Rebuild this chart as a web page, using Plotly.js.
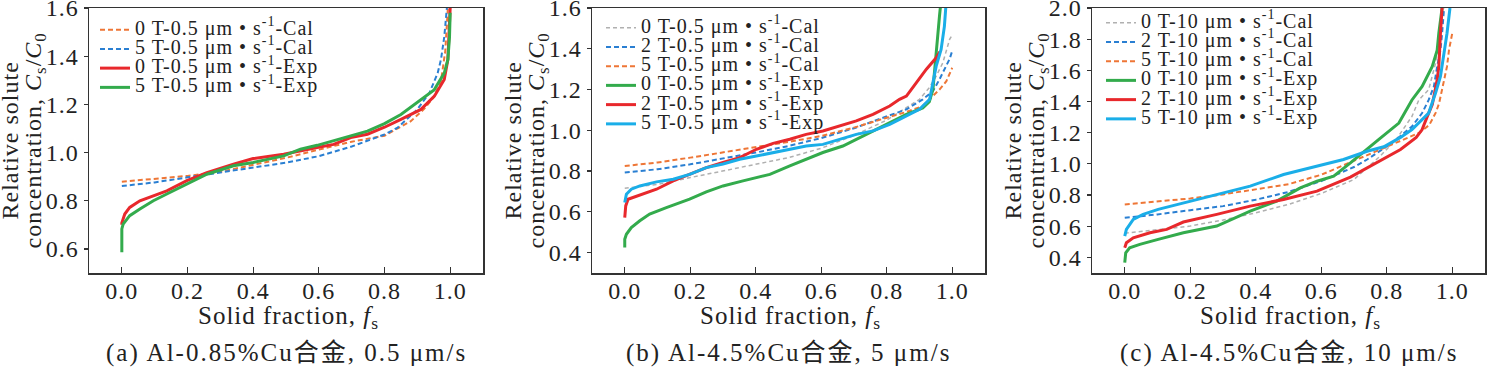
<!DOCTYPE html>
<html>
<head>
<meta charset="utf-8">
<script src="https://cdn.plot.ly/plotly-3.0.1.min.js"></script>
<style>
html,body{margin:0;padding:0;background:#fff}
#chart{width:1487px;height:368px}
svg text{letter-spacing:1px}
</style>
</head>
<body>
<div id="chart"></div>
<script>
// ---------------- DATA ----------------
// Panel (a) Al-0.85%Cu, 0.5 um/s
const a_cal0_f = [0, 0.1, 0.2, 0.3, 0.4, 0.5, 0.6, 0.7, 0.8, 0.84, 0.88, 0.92, 0.95, 0.972, 0.985, 0.993];
const a_cal0_v = [0.879, 0.89, 0.903, 0.92, 0.948, 0.978, 1.012, 1.045, 1.07, 1.1, 1.13, 1.18, 1.23, 1.296, 1.42, 1.6];
const a_cal5_f = [0, 0.1, 0.2, 0.3, 0.4, 0.5, 0.6, 0.7, 0.8, 0.84, 0.9, 0.937, 0.962, 0.972, 0.982, 0.99];
const a_cal5_v = [0.861, 0.876, 0.897, 0.917, 0.935, 0.958, 0.985, 1.025, 1.075, 1.103, 1.179, 1.248, 1.33, 1.386, 1.48, 1.6];
const a_exp0_f = [0, 0, 0.009, 0.024, 0.055, 0.096, 0.137, 0.198, 0.259, 0.34, 0.4, 0.493, 0.544, 0.595, 0.645, 0.697, 0.748, 0.8, 0.85, 0.911, 0.952, 0.982, 0.993, 0.997, 1.0];
const a_exp0_v = [0.70, 0.708, 0.745, 0.772, 0.80, 0.821, 0.841, 0.883, 0.917, 0.952, 0.975, 0.993, 1.008, 1.021, 1.034, 1.062, 1.076, 1.105, 1.138, 1.179, 1.234, 1.303, 1.386, 1.48, 1.6];
const a_exp5_f = [0, 0, 0.004, 0.024, 0.055, 0.096, 0.137, 0.198, 0.259, 0.34, 0.4, 0.493, 0.544, 0.595, 0.645, 0.697, 0.748, 0.8, 0.85, 0.911, 0.951, 0.982, 0.993, 0.998, 1.0];
const a_exp5_v = [0.586, 0.683, 0.703, 0.738, 0.766, 0.80, 0.828, 0.869, 0.91, 0.945, 0.959, 0.986, 1.014, 1.03, 1.048, 1.069, 1.089, 1.12, 1.158, 1.22, 1.26, 1.33, 1.386, 1.48, 1.58];

// Panel (b) Al-4.5%Cu, 5 um/s
const b_cal0_f = [0, 0.1, 0.2, 0.3, 0.4, 0.5, 0.6, 0.7, 0.8, 0.9, 0.93, 0.951, 0.971, 0.982, 0.992, 0.997];
const b_cal0_v = [0.716, 0.735, 0.768, 0.80, 0.833, 0.866, 0.912, 0.975, 1.05, 1.152, 1.209, 1.266, 1.33, 1.397, 1.446, 1.46];
const b_cal2_f = [0, 0.1, 0.2, 0.3, 0.4, 0.5, 0.6, 0.7, 0.8, 0.86, 0.91, 0.941, 0.961, 0.982, 0.992, 1.0];
const b_cal2_v = [0.793, 0.809, 0.833, 0.861, 0.891, 0.923, 0.962, 1.01, 1.07, 1.103, 1.152, 1.192, 1.25, 1.315, 1.35, 1.39];
const b_cal5_f = [0, 0.1, 0.2, 0.3, 0.4, 0.5, 0.6, 0.7, 0.8, 0.86, 0.91, 0.94, 0.961, 0.982, 0.992, 1.0];
const b_cal5_v = [0.825, 0.842, 0.866, 0.891, 0.915, 0.943, 0.972, 1.013, 1.062, 1.09, 1.119, 1.168, 1.2, 1.241, 1.274, 1.307];
const b_exp0_f = [0, 0, 0.005, 0.02, 0.046, 0.076, 0.127, 0.198, 0.249, 0.3, 0.361, 0.443, 0.504, 0.554, 0.605, 0.666, 0.707, 0.758, 0.809, 0.86, 0.91, 0.93, 0.941, 0.946, 0.951, 0.956, 0.961, 0.966];
const b_exp0_v = [0.425, 0.466, 0.49, 0.523, 0.556, 0.589, 0.621, 0.662, 0.698, 0.727, 0.752, 0.784, 0.825, 0.858, 0.891, 0.923, 0.956, 0.997, 1.038, 1.078, 1.11, 1.14, 1.2, 1.3, 1.397, 1.478, 1.56, 1.64];
const b_exp2_f = [0, 0.003, 0.01, 0.025, 0.056, 0.097, 0.148, 0.198, 0.249, 0.3, 0.351, 0.402, 0.453, 0.504, 0.554, 0.605, 0.656, 0.707, 0.758, 0.809, 0.839, 0.86, 0.89, 0.921, 0.951, 0.962];
const b_exp2_v = [0.572, 0.629, 0.662, 0.67, 0.686, 0.711, 0.752, 0.784, 0.817, 0.842, 0.866, 0.907, 0.936, 0.956, 0.98, 0.997, 1.021, 1.046, 1.078, 1.119, 1.152, 1.168, 1.233, 1.3, 1.356, 1.385];
const b_exp5_f = [0, 0.005, 0.02, 0.046, 0.097, 0.148, 0.198, 0.249, 0.3, 0.351, 0.402, 0.453, 0.504, 0.554, 0.605, 0.656, 0.707, 0.758, 0.809, 0.839, 0.9, 0.931, 0.941, 0.951, 0.966, 0.976, 0.982];
const b_exp5_v = [0.646, 0.686, 0.711, 0.727, 0.747, 0.76, 0.784, 0.817, 0.835, 0.858, 0.874, 0.891, 0.907, 0.923, 0.931, 0.956, 0.98, 0.997, 1.029, 1.054, 1.103, 1.152, 1.234, 1.315, 1.397, 1.51, 1.64];

// Panel (c) Al-4.5%Cu, 10 um/s
const c_cal0_f = [0, 0.1, 0.2, 0.3, 0.4, 0.5, 0.6, 0.7, 0.75, 0.78, 0.83, 0.877, 0.898, 0.928, 0.949, 0.959, 0.968];
const c_cal0_v = [0.555, 0.58, 0.601, 0.64, 0.686, 0.74, 0.81, 0.9, 0.99, 1.05, 1.16, 1.305, 1.41, 1.476, 1.646, 1.774, 2.0];
const c_cal2_f = [0, 0.1, 0.2, 0.3, 0.4, 0.5, 0.6, 0.7, 0.74, 0.816, 0.877, 0.908, 0.928, 0.944, 0.954, 0.964, 0.969, 0.975];
const c_cal2_v = [0.654, 0.676, 0.703, 0.729, 0.77, 0.82, 0.89, 0.98, 1.028, 1.134, 1.24, 1.326, 1.41, 1.497, 1.625, 1.73, 1.838, 2.0];
const c_cal5_f = [0, 0.1, 0.2, 0.3, 0.4, 0.5, 0.6, 0.7, 0.75, 0.8, 0.85, 0.9, 0.93, 0.95, 0.96, 0.97, 0.984, 0.99, 1.0];
const c_cal5_v = [0.74, 0.761, 0.778, 0.804, 0.836, 0.87, 0.93, 1.02, 1.06, 1.11, 1.15, 1.2, 1.25, 1.33, 1.39, 1.497, 1.625, 1.73, 1.838];
const c_exp0_f = [0, 0.003, 0.015, 0.046, 0.102, 0.179, 0.281, 0.383, 0.464, 0.536, 0.587, 0.638, 0.689, 0.74, 0.775, 0.837, 0.877, 0.908, 0.939, 0.954, 0.959, 0.969];
const c_exp0_v = [0.366, 0.43, 0.462, 0.484, 0.516, 0.558, 0.601, 0.697, 0.761, 0.846, 0.889, 0.921, 1.006, 1.092, 1.156, 1.262, 1.41, 1.497, 1.625, 1.73, 1.838, 2.0];
const c_exp2_f = [0, 0.005, 0.026, 0.077, 0.128, 0.179, 0.281, 0.383, 0.485, 0.587, 0.689, 0.77, 0.842, 0.89, 0.908, 0.923, 0.939, 0.954, 0.959, 0.964, 0.969];
const c_exp2_v = [0.462, 0.494, 0.526, 0.558, 0.58, 0.627, 0.676, 0.729, 0.772, 0.825, 0.915, 1.006, 1.092, 1.17, 1.22, 1.3, 1.38, 1.54, 1.625, 1.838, 2.0];
const c_exp5_f = [0, 0.005, 0.026, 0.056, 0.102, 0.179, 0.281, 0.383, 0.485, 0.587, 0.668, 0.74, 0.791, 0.842, 0.877, 0.928, 0.949, 0.964, 0.974, 0.984, 0.993];
const c_exp5_v = [0.537, 0.58, 0.644, 0.676, 0.708, 0.75, 0.804, 0.857, 0.932, 0.985, 1.028, 1.081, 1.11, 1.17, 1.22, 1.326, 1.454, 1.561, 1.689, 1.838, 2.0];

// Labels
const a_names = ['0 T-0.5 μm • s<sup>-1</sup>-Cal', '5 T-0.5 μm • s<sup>-1</sup>-Cal', '0 T-0.5 μm • s<sup>-1</sup>-Exp', '5 T-0.5 μm • s<sup>-1</sup>-Exp'];
const b_names = ['0 T-0.5 μm • s<sup>-1</sup>-Cal', '2 T-0.5 μm • s<sup>-1</sup>-Cal', '5 T-0.5 μm • s<sup>-1</sup>-Cal', '0 T-0.5 μm • s<sup>-1</sup>-Exp', '2 T-0.5 μm • s<sup>-1</sup>-Exp', '5 T-0.5 μm • s<sup>-1</sup>-Exp'];
const c_names = ['0 T-10 μm • s<sup>-1</sup>-Cal', '2 T-10 μm • s<sup>-1</sup>-Cal', '5 T-10 μm • s<sup>-1</sup>-Cal', '0 T-10 μm • s<sup>-1</sup>-Exp', '2 T-10 μm • s<sup>-1</sup>-Exp', '5 T-10 μm • s<sup>-1</sup>-Exp'];
const captions = ['(a) Al-0.85%Cu合金, 0.5 μm/s', '(b) Al-4.5%Cu合金, 5 μm/s', '(c) Al-4.5%Cu合金, 10 μm/s'];
const xTitle = 'Solid fraction, <i>f</i><sub>s</sub>';
const yTitle1 = 'Relative solute';
const yTitle2 = 'concentration, <i>C</i><sub>s</sub>/<i>C</i><sub>0</sub>';
const xTickVals = [0, 0.2, 0.4, 0.6, 0.8, 1.0];
const a_yTicks = [0.6, 0.8, 1.0, 1.2, 1.4, 1.6];
const b_yTicks = [0.4, 0.6, 0.8, 1.0, 1.2, 1.4, 1.6];
const c_yTicks = [0.4, 0.6, 0.8, 1.0, 1.2, 1.4, 1.6, 1.8, 2.0];

// ---------------- STYLE ----------------
const W = 1487, H = 368;
const FONT = 'Liberation Serif, Times New Roman, Noto Sans CJK SC, serif';
const TXT = '#222';
const C_ORANGE = '#ee7636', C_BLUE = '#2a7fd2', C_GRAY = '#b0b0b0';
const C_RED = '#e8282c', C_GREEN = '#33ab4c', C_CYAN = '#1aaee8';
const LEG_SPAN = s => '<span style="font-size:20px">' + s + '</span>';

function cal(x, y, name, color, xa, ya, leg, w, dash) {
  return {x: x, y: y, name: LEG_SPAN(name), type: 'scatter', mode: 'lines', xaxis: xa, yaxis: ya, legend: leg,
    line: {color: color, width: w || 2, dash: dash || '5px,3px'}, hoverinfo: 'skip'};
}
function exp(x, y, name, color, xa, ya, leg) {
  return {x: x, y: y, name: LEG_SPAN(name), type: 'scatter', mode: 'lines', xaxis: xa, yaxis: ya, legend: leg,
    line: {color: color, width: 3}, hoverinfo: 'skip'};
}

const traces = [
  cal(a_cal0_f, a_cal0_v, a_names[0], C_ORANGE, 'x', 'y', 'legend'),
  cal(a_cal5_f, a_cal5_v, a_names[1], C_BLUE, 'x', 'y', 'legend'),
  exp(a_exp0_f, a_exp0_v, a_names[2], C_RED, 'x', 'y', 'legend'),
  exp(a_exp5_f, a_exp5_v, a_names[3], C_GREEN, 'x', 'y', 'legend'),

  cal(b_cal0_f, b_cal0_v, b_names[0], C_GRAY, 'x2', 'y2', 'legend2', 1.5, '4px,3px'),
  cal(b_cal2_f, b_cal2_v, b_names[1], C_BLUE, 'x2', 'y2', 'legend2'),
  cal(b_cal5_f, b_cal5_v, b_names[2], C_ORANGE, 'x2', 'y2', 'legend2'),
  exp(b_exp0_f, b_exp0_v, b_names[3], C_GREEN, 'x2', 'y2', 'legend2'),
  exp(b_exp2_f, b_exp2_v, b_names[4], C_RED, 'x2', 'y2', 'legend2'),
  exp(b_exp5_f, b_exp5_v, b_names[5], C_CYAN, 'x2', 'y2', 'legend2'),

  cal(c_cal0_f, c_cal0_v, c_names[0], C_GRAY, 'x3', 'y3', 'legend3', 1.5, '4px,3px'),
  cal(c_cal2_f, c_cal2_v, c_names[1], C_BLUE, 'x3', 'y3', 'legend3'),
  cal(c_cal5_f, c_cal5_v, c_names[2], C_ORANGE, 'x3', 'y3', 'legend3'),
  exp(c_exp0_f, c_exp0_v, c_names[3], C_GREEN, 'x3', 'y3', 'legend3'),
  exp(c_exp2_f, c_exp2_v, c_names[4], C_RED, 'x3', 'y3', 'legend3'),
  exp(c_exp5_f, c_exp5_v, c_names[5], C_CYAN, 'x3', 'y3', 'legend3')
];

// pixel geometry of plot boxes
const boxes = [[89, 483], [592, 985], [1092, 1485]];
const yTop = 8, yBot = 273;
const yDom = [1 - yBot / H, 1 - yTop / H];

function xAxis(i) {
  return {domain: [boxes[i][0] / W, boxes[i][1] / W], range: [-0.1, 1.1], anchor: i === 0 ? 'y' : 'y' + (i + 1),
    tickvals: xTickVals, tickformat: '.1f', ticks: 'inside', ticklen: 6, tickwidth: 1.2, tickcolor: '#333',
    showline: true, linecolor: '#333', linewidth: 1.5, mirror: true, showgrid: false, zeroline: false,
    ticklabelstandoff: -4,
    tickfont: {family: FONT, size: 24, color: TXT}};
}
function yAxis(i, range, ticks) {
  return {domain: yDom, range: range, anchor: i === 0 ? 'x' : 'x' + (i + 1),
    tickvals: ticks, tickformat: '.1f', ticks: 'outside', ticklen: 4, tickwidth: 1.2, tickcolor: '#333',
    showline: true, linecolor: '#333', linewidth: 1.5, mirror: true, showgrid: false, zeroline: false,
    ticklabeloverflow: 'allow',
    tickfont: {family: FONT, size: 24, color: TXT}};
}
function legendAt(px, py) {
  return {x: px / W, y: 1 - py / H, xanchor: 'left', yanchor: 'top', bgcolor: 'rgba(0,0,0,0)', borderwidth: 0,
    font: {family: FONT, size: 12.5, color: TXT}, tracegroupgap: 0, itemwidth: 30};
}

const annotations = [];
const yMid = (yTop + yBot) / 2;
boxes.forEach((b, i) => {
  const cx = (b[0] + b[1]) / 2;
  annotations.push({text: '<span style="letter-spacing:2px">' + captions[i] + '</span>', xref: 'paper', yref: 'paper',
    x: cx / W, y: 1 - 353 / H, xanchor: 'center', yanchor: 'middle', showarrow: false,
    font: {family: FONT, size: 25, color: TXT}});
  annotations.push({text: xTitle, xref: 'paper', yref: 'paper', x: (cx + 2) / W, y: 1 - 317 / H,
    xanchor: 'center', yanchor: 'middle', showarrow: false, font: {family: FONT, size: 25, color: TXT}});
  annotations.push({text: yTitle1, xref: 'paper', yref: 'paper', x: (b[0] - 80) / W, y: 1 - yMid / H,
    xanchor: 'center', yanchor: 'middle', textangle: -90, showarrow: false, font: {family: FONT, size: 24, color: TXT}});
  annotations.push({text: yTitle2, xref: 'paper', yref: 'paper', x: (b[0] - 55) / W, y: 1 - yMid / H,
    xanchor: 'center', yanchor: 'middle', textangle: -90, showarrow: false, font: {family: FONT, size: 24, color: TXT}});
});

const layout = {
  width: W, height: H, margin: {l: 0, r: 0, t: 0, b: 0}, paper_bgcolor: '#fff', plot_bgcolor: '#fff',
  showlegend: true,
  xaxis: xAxis(0), xaxis2: xAxis(1), xaxis3: xAxis(2),
  yaxis: yAxis(0, [0.5, 1.6], a_yTicks), yaxis2: yAxis(1, [0.3, 1.6], b_yTicks), yaxis3: yAxis(2, [0.3, 2.0], c_yTicks),
  legend: legendAt(95, 15), legend2: legendAt(601, 13), legend3: legendAt(1101, 8),
  annotations: annotations
};

Plotly.newPlot('chart', traces, layout, {staticPlot: true, displayModeBar: false});
</script>
</body>
</html>
